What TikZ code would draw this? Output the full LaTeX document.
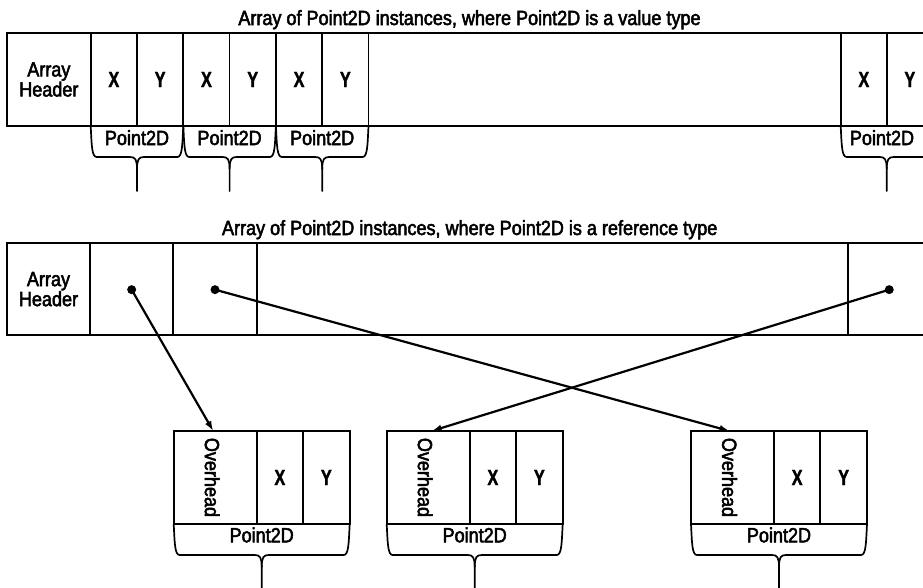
\documentclass[tikz,border=0pt]{standalone}
\usepackage{fontspec}
\setmainfont[FakeStretch=0.88,FakeBold=2.5]{Liberation Sans}
\newfontfamily\xyfont[FakeStretch=0.74,UprightFont={* Bold},FakeBold=1.5]{Liberation Sans}
\usetikzlibrary{arrows.meta}
\newcommand{\lblfont}{\fontsize{20.5}{22}\selectfont}
\newcommand{\xyfnt}{\xyfont\fontsize{22}{24}\selectfont}
% brace: #1 left, #2 right, #3 centre, #4 top, #5 bottom line, #6 tip end
\newcommand{\pointbrace}[6]{%
  \draw[bracestyle] (#1,#4) .. controls (#1+1,#5-12) and (#1+1,#5) .. (#1+6,#5)
    -- (#3-7,#5) .. controls (#3-2,#5) and (#3,#5+2) .. (#3,#5+12) -- (#3,#6);
  \draw[bracestyle] (#2,#4) .. controls (#2-1,#5-12) and (#2-1,#5) .. (#2-6,#5)
    -- (#3+7,#5) .. controls (#3+2,#5) and (#3,#5+2) .. (#3,#5+12);
}
\begin{document}
\begin{tikzpicture}[x=1pt,y=-1pt,
  cell/.style={draw, line width=1.7pt, inner sep=0pt, outer sep=0pt, anchor=north west,
    minimum height=93pt, font=\lblfont, align=center},
  xycell/.style={cell, minimum width=46.3pt, font=\xyfnt},
  ovcell/.style={cell, minimum width=83pt},
  title/.style={anchor=base, font=\lblfont},
  plabel/.style={anchor=base, font=\lblfont},
  bracestyle/.style={line width=1.7pt, line cap=round, line join=round},
  dot/.style={circle, fill=black, inner sep=0pt, minimum size=9pt},
  ptr/.style={line width=2.2pt, -{Latex[length=10pt,width=7pt]}}
]
\useasboundingbox (0,0) rectangle (923,587);
\clip (0,0) rectangle (923,587);
\fill[white] (0,0) rectangle (923,587);

% ---------- value type ----------
\node[title] (title1) at (469.5,25) {Array of Point2D instances, where Point2D is a value type};
\node[cell, minimum width=83.7pt] (hdrA) at (7,33) {Array\\[-2pt]Header};
\node[xycell] (xA1) at (90.7,33) {X};
\node[xycell] (yA1) at (137,33) {Y};
\node[xycell] (xA2) at (183.3,33) {X};
\node[xycell] (yA2) at (229.6,33) {Y};
\node[xycell] (xA3) at (275.9,33) {X};
\node[xycell] (yA3) at (322.2,33) {Y};
\node[cell, minimum width=472.2pt] (gapA) at (368.5,33) {};
\node[xycell] (xA4) at (840.7,33) {X};
\node[xycell] (yA4) at (886.7,33) {Y};

\pointbrace{90.7}{183.3}{137}{126}{157}{191}
\pointbrace{183.3}{275.9}{229.6}{126}{157}{191}
\pointbrace{275.9}{368.5}{322.2}{126}{157}{191}
\pointbrace{840.7}{933}{886.7}{126}{157}{191}
\node[plabel] (pA1) at (137,145) {Point2D};
\node[plabel] (pA2) at (229.6,145) {Point2D};
\node[plabel] (pA3) at (322.2,145) {Point2D};
\node[plabel] (pA4) at (882,145) {Point2D};

% ---------- reference type ----------
\node[title] (title2) at (469.7,235) {Array of Point2D instances, where Point2D is a reference type};
\node[cell, minimum width=83pt, minimum height=91.7pt] (hdrB) at (7,243.3) {Array\\[-2pt]Header};
\node[cell, minimum width=83.3pt, minimum height=91.7pt] (rB1) at (90,243.3) {};
\node[cell, minimum width=83.4pt, minimum height=91.7pt] (rB2) at (173.3,243.3) {};
\node[cell, minimum width=591.6pt, minimum height=91.7pt] (gapB) at (256.7,243.3) {};
\node[cell, minimum width=83.3pt, minimum height=91.7pt] (rB3) at (848.3,243.3) {};

\node[dot] (d1) at ([yshift=-0.5pt]rB1.center) {};
\node[dot] (d2) at ([yshift=-0.5pt]rB2.center) {};
\node[dot] (d3) at ([xshift=-0.7pt,yshift=-0.5pt]rB3.center) {};

% objects on the heap
\node[ovcell] (ov1) at (173.7,431) {};
\node[xycell] (xB1) at (256.7,431) {X};
\node[xycell, minimum width=46.7pt] (yB1) at (303,431) {Y};
\node[ovcell] (ov2) at (386.7,431) {};
\node[xycell] (xB2) at (469.7,431) {X};
\node[xycell, minimum width=46.7pt] (yB2) at (516,431) {Y};
\node[ovcell] (ov3) at (691,431) {};
\node[xycell] (xB3) at (774,431) {X};
\node[xycell, minimum width=46.7pt] (yB3) at (820.3,431) {Y};

\node[font=\lblfont, rotate=-90] (ovt1) at ([xshift=-3pt]ov1.center) {Overhead};
\node[font=\lblfont, rotate=-90] (ovt2) at ([xshift=-3pt]ov2.center) {Overhead};
\node[font=\lblfont, rotate=-90] (ovt3) at ([xshift=-3pt]ov3.center) {Overhead};

\pointbrace{173.7}{349.7}{261.7}{524}{555}{595}
\pointbrace{386.7}{562.7}{474.7}{524}{555}{595}
\pointbrace{691}{867}{779}{524}{555}{595}
\node[plabel] (pB1) at (261.7,542.3) {Point2D};
\node[plabel] (pB2) at (474.7,542.3) {Point2D};
\node[plabel] (pB3) at (779,542.3) {Point2D};

% pointers
\draw[ptr] (d1.center) -- ([xshift=-2pt]ov1.north);
\draw[ptr] (d3.center) -- ([xshift=3.5pt]ov2.north);
\draw[ptr] (d2.center) -- ([xshift=-3pt]ov3.north);
\end{tikzpicture}
\end{document}
